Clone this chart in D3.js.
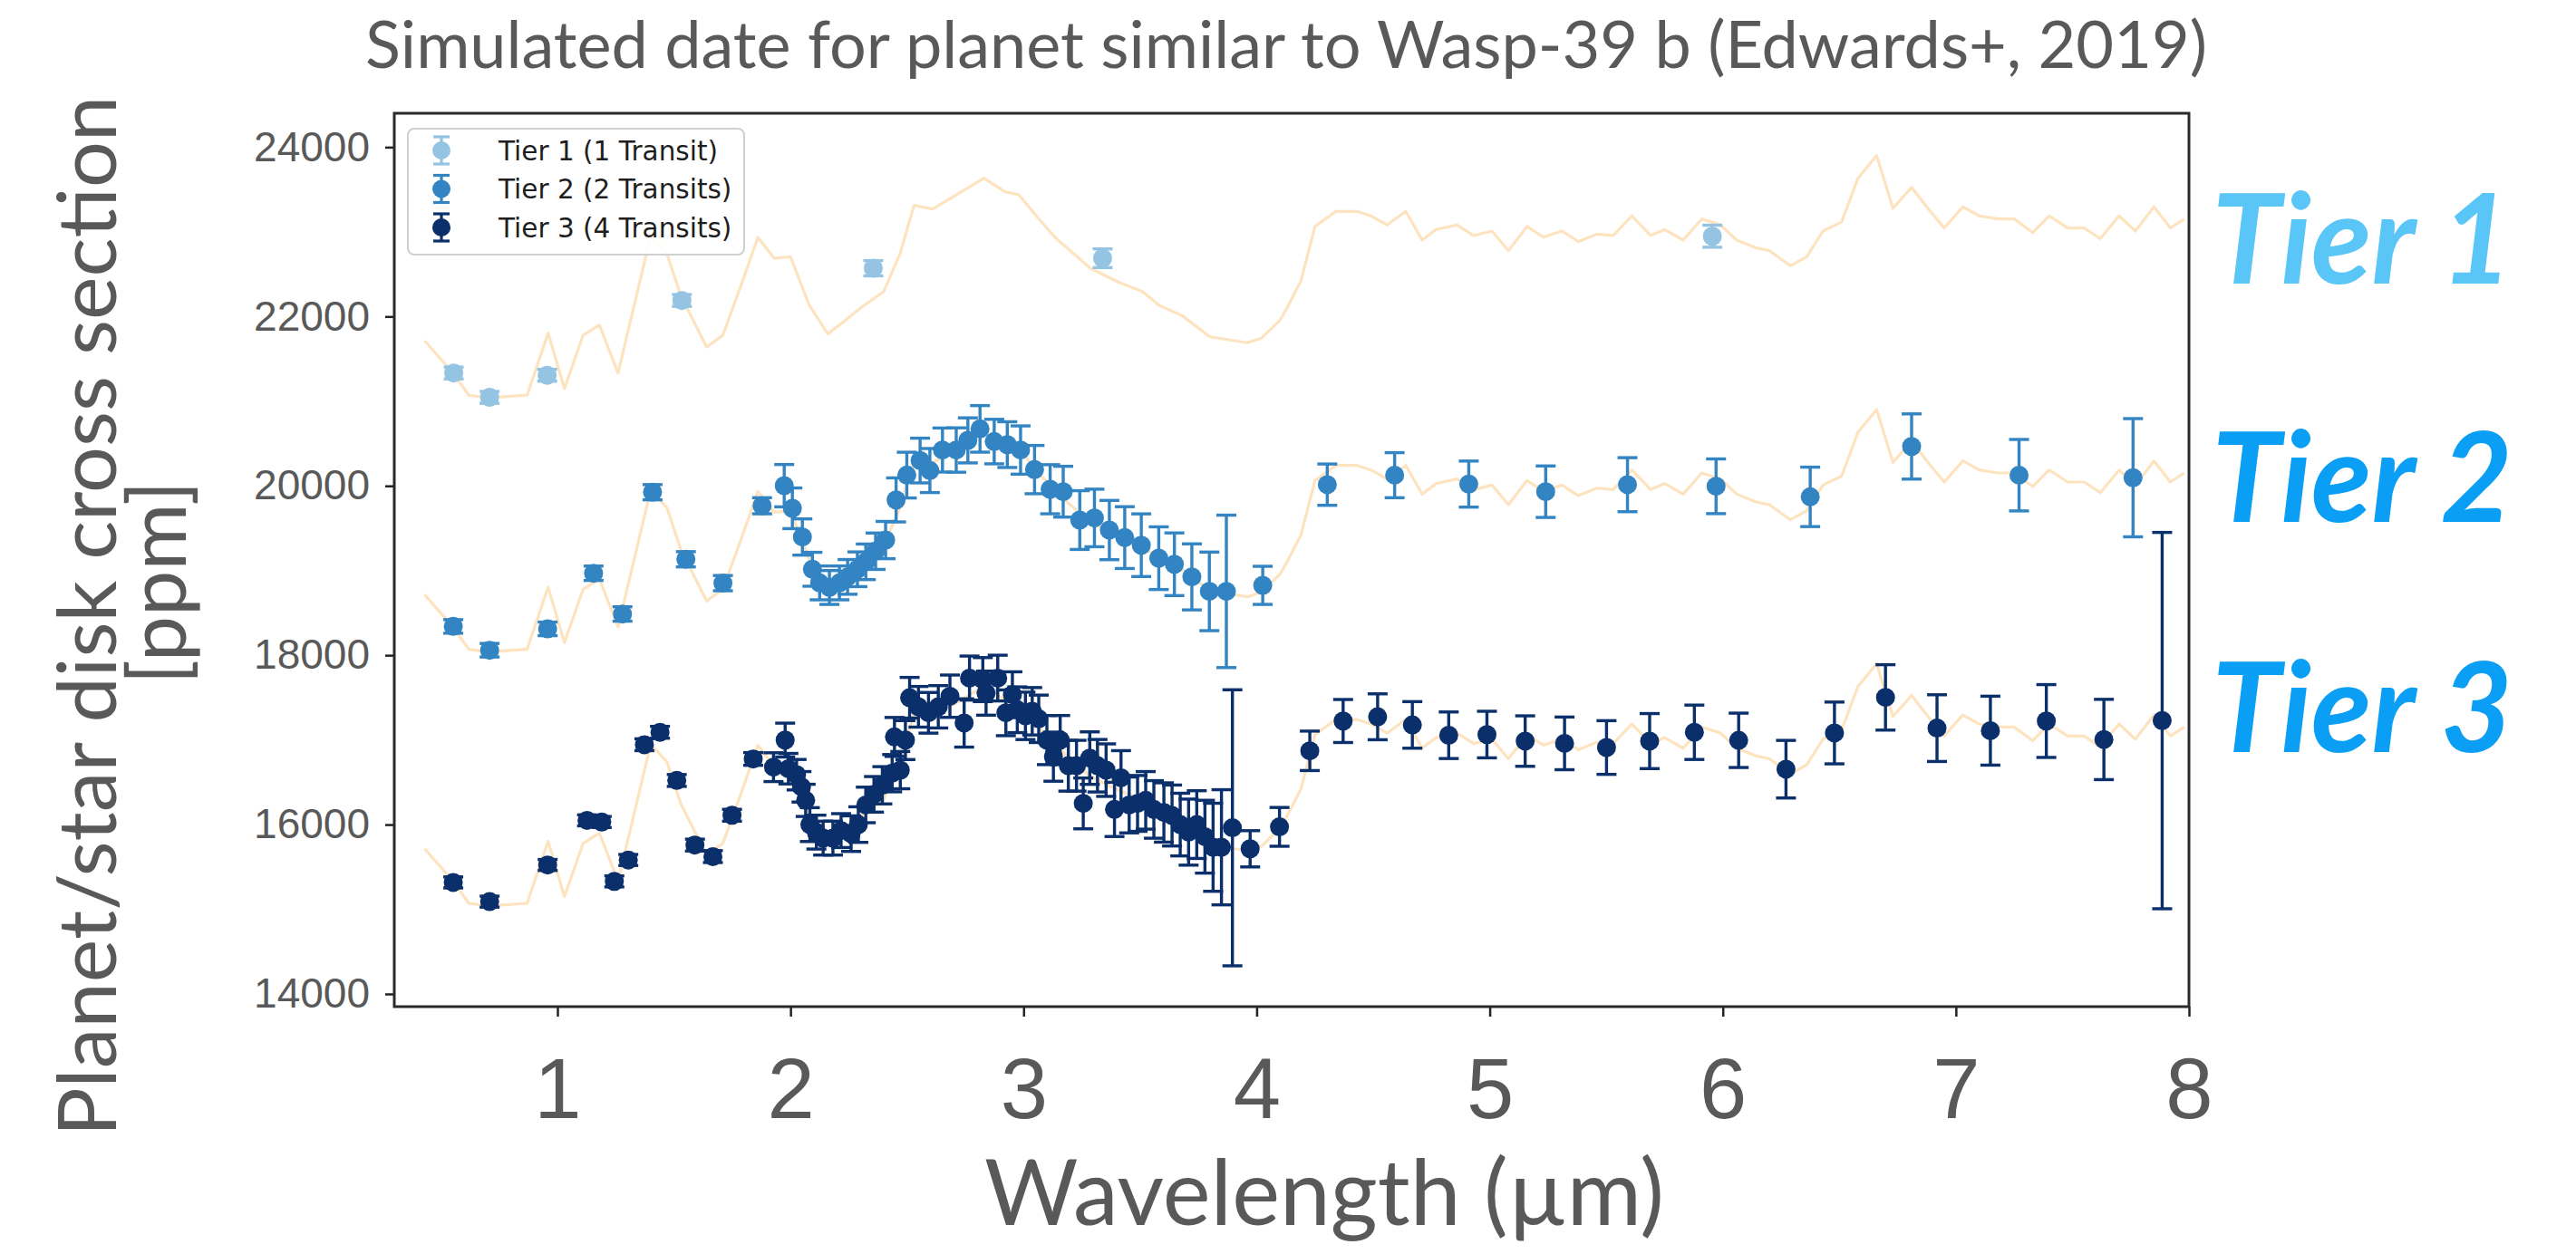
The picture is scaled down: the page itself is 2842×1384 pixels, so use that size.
<!DOCTYPE html>
<html>
<head>
<meta charset="utf-8">
<script src="https://cdn.jsdelivr.net/npm/d3@7"></script>
<style>
  html, body { margin: 0; padding: 0; background: #fff; }
  svg { display: block; font-family: Lato, "Open Sans", sans-serif; }
</style>
</head>
<body>
<svg width="2842" height="1384"></svg>
<script>
// model spectrum (drawn once per tier, shifted by the tier offset)
const modelWavelength = [0.43,0.55,0.62,0.70,0.87,0.96,1.03,1.11,1.18,1.26,1.40,1.47,1.53,1.64,1.71,1.79,1.86,1.93,2.00,2.08,2.16,2.22,2.30,2.40,2.47,2.53,2.61,2.69,2.83,2.92,2.98,3.06,3.14,3.29,3.41,3.51,3.58,3.68,3.80,3.88,3.96,4.02,4.10,4.13,4.19,4.25,4.34,4.43,4.49,4.56,4.64,4.71,4.77,4.86,4.93,5.01,5.08,5.16,5.23,5.31,5.38,5.46,5.53,5.61,5.69,5.75,5.83,5.91,5.99,6.06,6.14,6.20,6.29,6.36,6.43,6.51,6.58,6.66,6.73,6.81,6.88,6.95,7.03,7.10,7.18,7.25,7.33,7.40,7.48,7.55,7.62,7.70,7.77,7.85,7.92,7.98];
const modelDepth = [21715,21340,21070,21040,21070,21804,21150,21778,21900,21333,22950,22740,22242,21640,21780,22385,22935,22688,22706,22135,21796,21921,22100,22295,22742,23312,23270,23402,23633,23473,23437,23170,22920,22563,22402,22295,22135,22010,21760,21725,21690,21743,21957,22100,22420,23063,23241,23241,23188,23081,23241,22902,23027,23081,22956,23009,22777,23063,22938,23009,22884,22973,22956,23188,22956,23027,22902,23152,23081,22902,22813,22777,22599,22706,23009,23117,23633,23901,23277,23526,23277,23045,23295,23188,23152,23152,22991,23188,23045,23045,22920,23188,23009,23295,23045,23152];
const modelOffsets = [0, -3000, -6000];

// Tier 1 (1 transit)
const tier1Wavelength = [0.555,0.709,0.956,1.534,2.355,3.339,5.955];
const tier1Depth = [21333,21045,21306,22189,22570,22688,22948];
const tier1Error = [70,70,70,70,90,110,130];

// Tier 2 (2 transits)
const tier2Wavelength = [0.553,0.709,0.958,1.155,1.279,1.408,1.551,1.710,1.878,1.973,2.008,2.051,2.094,2.125,2.167,2.210,2.245,2.287,2.323,2.365,2.408,2.453,2.499,2.556,2.598,2.652,2.711,2.761,2.813,2.874,2.930,2.987,3.047,3.114,3.170,3.241,3.304,3.368,3.434,3.505,3.580,3.647,3.722,3.797,3.870,4.026,4.303,4.592,4.910,5.240,5.591,5.971,6.375,6.810,7.271,7.760];
const tier2Depth = [18340,18059,18311,18968,18487,19925,19133,18851,19765,20002,19735,19396,19015,18854,18800,18854,18925,19015,19103,19228,19360,19834,20127,20299,20181,20423,20423,20537,20673,20523,20487,20423,20192,19960,19931,19596,19621,19478,19389,19299,19146,19074,18925,18754,18754,18825,20014,20126,20021,19931,20014,19995,19870,20465,20126,20096];
const tier2Error = [80,80,80,85,85,90,90,90,95,250,240,214,200,200,200,200,205,205,210,215,220,260,270,264,260,260,262,266,275,263,270,285,285,290,300,347,340,350,365,370,370,370,390,464,900,225,244,266,272,304,319,323,351,385,422,698];

// Tier 3 (4 transits)
const tier3Wavelength = [0.553,0.709,0.958,1.127,1.190,1.244,1.304,1.373,1.440,1.512,1.590,1.667,1.749,1.840,1.927,1.977,1.991,2.026,2.047,2.065,2.083,2.111,2.140,2.182,2.217,2.260,2.291,2.323,2.358,2.394,2.436,2.446,2.471,2.493,2.511,2.549,2.592,2.634,2.684,2.745,2.768,2.825,2.839,2.889,2.924,2.952,2.973,3.008,3.037,3.065,3.100,3.128,3.157,3.192,3.227,3.256,3.284,3.317,3.354,3.390,3.418,3.453,3.489,3.524,3.559,3.602,3.637,3.672,3.708,3.743,3.778,3.813,3.849,3.896,3.972,4.098,4.228,4.371,4.519,4.668,4.824,4.988,5.152,5.321,5.501,5.686,5.878,6.068,6.271,6.479,6.698,6.919,7.148,7.388,7.635,7.885];
const tier3Depth = [15317,15090,15523,16050,16030,15329,15582,16943,17090,16521,15758,15622,16110,16775,16678,16998,16660,16589,16446,16286,16000,15911,15840,15840,15929,15893,16000,16232,16357,16464,16607,17035,16643,16998,17498,17391,17320,17391,17516,17200,17730,17712,17552,17730,17320,17534,17356,17284,17338,17249,16998,16802,16998,16695,16695,16250,16785,16695,16643,16179,16553,16232,16250,16286,16179,16143,16107,16000,15911,16000,15857,15732,15732,15962,15714,15973,16871,17223,17273,17177,17055,17063,16986,16959,16910,16986,17090,16995,16654,17082,17502,17139,17109,17223,17005,17228];
const tier3Error = [65,65,65,65,65,65,65,70,70,70,70,70,70,75,170,200,180,180,180,190,200,200,200,200,200,210,210,210,210,220,220,230,220,230,240,240,240,250,250,285,260,260,260,270,270,270,270,280,280,280,290,290,290,300,300,300,310,310,310,320,320,330,330,340,340,350,360,370,390,400,430,520,680,1630,214,229,233,254,271,275,275,275,298,311,317,325,321,321,340,365,386,394,407,430,474,2222];

const tierLabels = ['Tier 1 (1 Transit)', 'Tier 2 (2 Transits)', 'Tier 3 (4 Transits)'];
const sideLabels = ['Tier 1', 'Tier 2', 'Tier 3'];
const xTicks = [1, 2, 3, 4, 5, 6, 7, 8];
const yTicks = [14000, 16000, 18000, 20000, 22000, 24000];

// styling
const tierColors = ['#94c4e2', '#3384c2', '#0a2f6b'];
const sideColors = ['#5ac6f8', '#0a9ff4', '#0a9ff4'];
const modelColor = '#fde3bf';
const textGray = '#595959';

const svg = d3.select('svg');
const margin = {top: 125, right: 427, bottom: 273, left: 435};
const width = 2842 - margin.left - margin.right;
const height = 1384 - margin.top - margin.bottom;

const x = d3.scaleLinear().domain([0.3, 8.0]).range([0, width]);
const y = d3.scaleLinear().domain([13850, 24400]).range([height, 0]);

const plot = svg.append('g')
  .attr('transform', 'translate(' + margin.left + ',' + margin.top + ')');

const tiers = [
  {wl: tier1Wavelength, depth: tier1Depth, err: tier1Error},
  {wl: tier2Wavelength, depth: tier2Depth, err: tier2Error},
  {wl: tier3Wavelength, depth: tier3Depth, err: tier3Error}
].map((t, i) => t.wl.map((w, j) => ({w: w, v: t.depth[j], e: t.err[j], tier: i})));

drawModels();
tiers.forEach(drawTier);
drawFrameAndAxes();
drawLegend();
drawText();

function drawModels() {
  const model = modelWavelength.map((w, i) => ({w: w, v: modelDepth[i]}));
  modelOffsets.forEach(off => {
    plot.append('path')
      .datum(model)
      .attr('fill', 'none')
      .attr('stroke', modelColor)
      .attr('stroke-width', 3.2)
      .attr('stroke-linejoin', 'round')
      .attr('d', d3.line().x(d => x(d.w)).y(d => y(d.v + off)));
  });
}

function drawTier(points, i) {
  const g = plot.append('g').attr('class', 'tier' + (i + 1));
  const col = tierColors[i];
  const cap = 11;
  const bars = g.selectAll('.err').data(points).enter().append('g').attr('class', 'err');
  bars.append('line')
    .attr('x1', d => x(d.w)).attr('x2', d => x(d.w))
    .attr('y1', d => y(d.v - d.e)).attr('y2', d => y(d.v + d.e))
    .attr('stroke', col).attr('stroke-width', 3.4);
  bars.append('line')
    .attr('x1', d => x(d.w) - cap).attr('x2', d => x(d.w) + cap)
    .attr('y1', d => y(d.v + d.e)).attr('y2', d => y(d.v + d.e))
    .attr('stroke', col).attr('stroke-width', 3.4);
  bars.append('line')
    .attr('x1', d => x(d.w) - cap).attr('x2', d => x(d.w) + cap)
    .attr('y1', d => y(d.v - d.e)).attr('y2', d => y(d.v - d.e))
    .attr('stroke', col).attr('stroke-width', 3.4);
  g.selectAll('circle').data(points).enter().append('circle')
    .attr('cx', d => x(d.w))
    .attr('cy', d => y(d.v))
    .attr('r', 10.5)
    .attr('fill', col);
}

function drawFrameAndAxes() {
  const yAxis = plot.append('g')
    .attr('class', 'axis axis-y')
    .call(d3.axisLeft(y).tickValues(yTicks).tickSize(10).tickPadding(17).tickFormat(d3.format('d')));
  const xAxis = plot.append('g')
    .attr('class', 'axis axis-x')
    .attr('transform', 'translate(0,' + height + ')')
    .call(d3.axisBottom(x).tickValues(xTicks).tickSize(11).tickPadding(45).tickFormat(d3.format('d')));
  [yAxis, xAxis].forEach(a => {
    a.select('.domain').remove();
    a.selectAll('line').attr('stroke', '#222').attr('stroke-width', 2.5);
  });
  yAxis.selectAll('text').attr('font-size', 46).attr('fill', textGray);
  xAxis.selectAll('text').attr('font-size', 94).attr('fill', textGray);

  plot.append('rect')
    .attr('width', width).attr('height', height)
    .attr('fill', 'none').attr('stroke', '#2a2a2a').attr('stroke-width', 3);
}

function drawLegend() {
  const lg = plot.append('g').attr('transform', 'translate(15,17)');
  lg.append('rect')
    .attr('width', 371).attr('height', 139).attr('rx', 7)
    .attr('fill', '#fff').attr('fill-opacity', 0.85)
    .attr('stroke', '#d0d0d0').attr('stroke-width', 2);
  const rows = lg.selectAll('.row').data(tierLabels).enter().append('g')
    .attr('class', 'row')
    .attr('transform', (d, i) => 'translate(37,' + (24 + i * 42.5) + ')');
  rows.append('line').attr('y1', -15).attr('y2', 15)
    .attr('stroke', (d, i) => tierColors[i]).attr('stroke-width', 3.2);
  rows.append('line').attr('x1', -9).attr('x2', 9).attr('y1', -15).attr('y2', -15)
    .attr('stroke', (d, i) => tierColors[i]).attr('stroke-width', 3.2);
  rows.append('line').attr('x1', -9).attr('x2', 9).attr('y1', 15).attr('y2', 15)
    .attr('stroke', (d, i) => tierColors[i]).attr('stroke-width', 3.2);
  rows.append('circle').attr('r', 10).attr('fill', (d, i) => tierColors[i]);
  rows.append('text')
    .attr('x', 63).attr('dy', '0.36em')
    .attr('font-family', '"DejaVu Sans", sans-serif')
    .attr('font-size', 29.5)
    .attr('fill', '#1e1e1e')
    .text(d => d);
}

function drawText() {
  svg.append('text')
    .attr('x', 1419).attr('y', 75)
    .attr('text-anchor', 'middle')
    .attr('font-size', 72)
    .attr('fill', textGray)
    .text('Simulated date for planet similar to Wasp-39 b (Edwards+, 2019)');

  svg.append('text')
    .attr('x', 1461).attr('y', 1352)
    .attr('text-anchor', 'middle')
    .attr('font-size', 100)
    .attr('fill', textGray)
    .text('Wavelength (\u00b5m)');

  svg.append('text')
    .attr('transform', 'translate(128,680) rotate(-90)')
    .attr('text-anchor', 'middle')
    .attr('font-size', 90)
    .attr('fill', textGray)
    .text('Planet/star disk cross section');
  svg.append('text')
    .attr('transform', 'translate(205,643) rotate(-90)')
    .attr('text-anchor', 'middle')
    .attr('font-size', 90)
    .attr('fill', textGray)
    .text('[ppm]');

  svg.selectAll('.side').data(sideLabels).enter().append('text')
    .attr('class', 'side')
    .attr('x', 2440)
    .attr('y', (d, i) => [313, 576, 830][i])
    .attr('font-size', 137)
    .attr('font-weight', 'bold')
    .attr('font-style', 'italic')
    .attr('fill', (d, i) => sideColors[i])
    .text(d => d);
}
</script>
</body>
</html>
